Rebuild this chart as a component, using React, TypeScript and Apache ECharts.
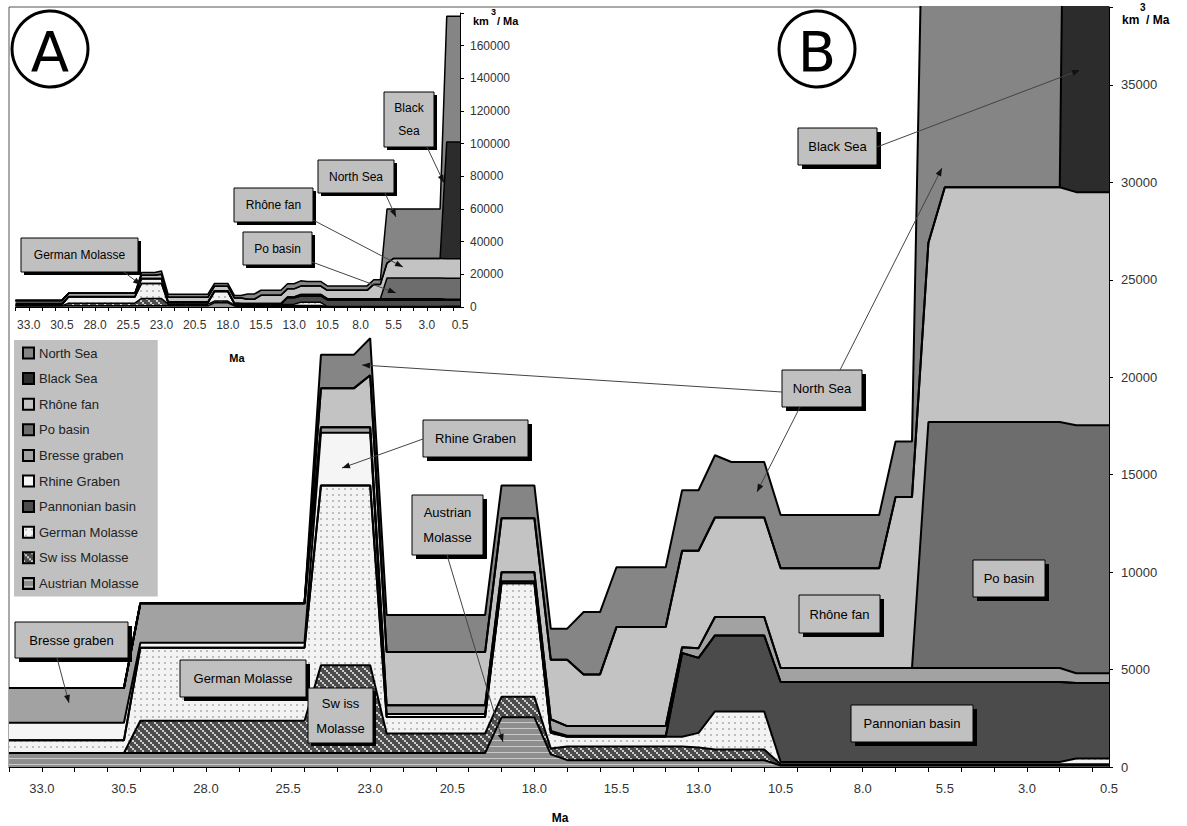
import React, { useEffect, useRef } from 'react';
import * as echarts from 'echarts';

const FONT = "'Liberation Sans', Arial, Helvetica, sans-serif";

// Ages (Ma), one category every 0.5 Ma, oldest at left
const ages = ['34.0','33.5','33.0','32.5','32.0','31.5','31.0','30.5','30.0','29.5','29.0','28.5','28.0','27.5','27.0','26.5','26.0','25.5','25.0','24.5','24.0','23.5','23.0','22.5','22.0','21.5','21.0','20.5','20.0','19.5','19.0','18.5','18.0','17.5','17.0','16.5','16.0','15.5','15.0','14.5','14.0','13.5','13.0','12.5','12.0','11.5','11.0','10.5','10.0','9.5','9.0','8.5','8.0','7.5','7.0','6.5','6.0','5.5','5.0','4.5','4.0','3.5','3.0','2.5','2.0','1.5','1.0','0.5'];

// Sediment flux, km3/Ma (stacked, bottom first)
const austrianMolasse = [
  720,720,720,720,720,720,720,720,
  720,720,720,720,720,720,720,720,720,720,720,
  720,720,720,720,
  720,720,720,720,720,720,720,
  2550,2550,2550,
  650,
  350,350,350,350,350,350,350,350,350,350,350,350,350,
  80,80,80,80,80,80,80,80,80,80,80,80,80,80,80,80,80,80,80,80,80];
const swissMolasse = [
  0,0,0,0,0,0,0,0,
  1650,1650,1650,1650,1650,1650,1650,1650,1650,1650,1650,
  4500,4500,4500,4500,
  1000,1000,1000,1000,1000,1000,1000,
  1050,1050,1050,
  300,
  700,700,700,700,700,700,700,700,
  650,
  550,550,550,550,
  60,60,60,60,60,60,60,60,60,60,60,60,60,60,60,60,60,60,60,60,60];
const germanMolasse = [
  650,650,650,650,650,650,650,650,
  3750,3750,3750,3750,3750,3750,3750,3750,3750,3750,3750,
  9230,9230,9230,9230,
  850,850,850,850,850,850,850,
  5830,5830,5830,
  800,
  500,500,500,500,500,500,500,500,
  750,
  1950,1950,1950,1950,
  120,120,120,120,120,120,120,120,120,120,120,120,120,120,120,120,120,120,
  300,300,300];
const pannonianBasin = [
  0,0,0,0,0,0,0,0,0,0,0,0,0,0,0,0,0,0,0,0,0,0,0,0,0,0,0,0,0,0,0,0,0,0,0,0,0,0,0,0,0,
  4300,
  3850,
  3900,3900,3900,3900,
  4100,4100,4100,4100,4100,4100,4100,4100,4100,4100,4100,4100,4100,4100,4100,4100,4100,4100,
  3870,3870,3870];
const rhineGraben = [
  900,900,900,900,900,900,900,900,
  250,250,250,250,250,250,250,250,250,250,250,
  2700,2700,2700,2700,
  150,150,150,150,150,150,150,
  100,100,100,
  100,
  50,50,50,50,50,50,50,
  0,0,0,0,0,0,0,0,0,0,0,0,0,0,0,0,0,0,0,0,0,0,0,0,0,0,0];
const bresseGraben = [
  1780,1780,1780,1780,1780,1780,1780,1780,
  2030,2030,2030,2030,2030,2030,2030,2030,2030,2030,2030,
  280,280,280,280,
  450,450,450,450,450,450,450,
  470,470,470,
  600,
  500,500,500,500,500,500,500,
  300,
  500,
  950,950,950,950,
  720,720,720,720,720,720,720,720,720,720,720,720,720,720,720,720,720,720,
  500,500,500];
const poBasin = [
  0,0,0,0,0,0,0,0,0,0,0,0,0,0,0,0,0,0,0,0,0,0,0,0,0,0,0,0,0,0,0,0,0,0,0,0,0,0,0,0,0,0,0,0,0,0,0,0,0,0,0,0,0,0,0,0,
  12620,12620,12620,12620,12620,12620,12620,12620,12620,
  12730,12730,12730];
const rhoneFan = [
  0,0,0,0,0,0,0,0,0,0,0,0,0,0,0,0,0,0,0,
  2000,2000,2000,
  2670,
  2730,2730,2730,2730,2730,2730,2730,
  2770,2770,2770,
  3050,
  3400,
  2650,2650,
  5080,5080,5080,5080,
  4950,
  5000,
  5100,5100,5100,5100,
  5120,5120,5120,5120,5120,5120,5120,
  8770,8770,
  9200,
  12050,12050,12050,12050,12050,12050,12050,12050,
  11960,11960,11960];
const blackSea = [
  0,0,0,0,0,0,0,0,0,0,0,0,0,0,0,0,0,0,0,0,0,0,0,0,0,0,0,0,0,0,0,0,0,0,0,0,0,0,0,0,0,0,0,0,0,0,0,0,0,0,0,0,0,0,0,0,0,0,0,0,0,0,0,0,0,
  71500,71500,71500];
const northSea = [
  0,0,0,0,0,0,0,0,0,0,0,0,0,0,0,0,0,0,0,
  1720,1720,1720,
  1900,
  1900,1900,1900,1900,1900,1900,1900,
  1680,1680,1680,
  1600,1600,
  3200,3200,
  3070,3070,3070,3070,
  3100,3100,
  3200,
  2850,2850,2850,
  2730,2730,2730,2730,2730,2730,2730,
  2850,2850,
  33100,
  30250,30250,30250,30250,30250,30250,30250,30250,
  77000,77000,77000];

const legendOrder = ['North Sea','Black Sea','Rhône fan','Po basin','Bresse graben','Rhine Graben','Pannonian basin','German Molasse','Sw iss Molasse','Austrian Molasse'];

function makePattern(kind: string) {
  const c = document.createElement('canvas');
  let w = 8, h = 8;
  if (kind === 'stripes') { w = 8; h = 6; }
  if (kind === 'dots') { w = 6; h = 6; }
  c.width = w; c.height = h;
  const g = c.getContext('2d')!;
  if (kind === 'stripes') {
    g.fillStyle = '#8e8e8e'; g.fillRect(0, 0, w, h);
    g.fillStyle = '#c9c9c9'; g.fillRect(0, 2, w, 1);
  } else if (kind === 'hatch') {
    g.fillStyle = '#4c4c4c'; g.fillRect(0, 0, w, h);
    g.fillStyle = '#cfcfcf';
    for (let k = 0; k < 4; k++) g.fillRect(k * 2, k * 2, 2, 2);
  } else {
    g.fillStyle = '#f3f3f3'; g.fillRect(0, 0, w, h);
    g.fillStyle = '#bdbdbd'; g.fillRect(2, 2, 2, 2);
  }
  return { image: c, repeat: 'repeat', imageWidth: w, imageHeight: h } as any;
}

function arrowHead(x1: number, y1: number, x2: number, y2: number, len = 8, half = 3) {
  const dx = x2 - x1, dy = y2 - y1, L = Math.hypot(dx, dy);
  const ux = dx / L, uy = dy / L;
  const bx = x2 - ux * len, by = y2 - uy * len;
  return {
    type: 'polygon', z: 102, silent: true,
    shape: { points: [[x2, y2], [bx - uy * half, by + ux * half], [bx + uy * half, by - ux * half]] },
    style: { fill: '#111' },
  };
}
function leader(x1: number, y1: number, x2: number, y2: number, head = true) {
  const out: any[] = [{
    type: 'line', z: 101, silent: true,
    shape: { x1, y1, x2, y2 }, style: { stroke: '#444', lineWidth: 1 },
  }];
  if (head) out.push(arrowHead(x1, y1, x2, y2));
  return out;
}
function txt(x: number, y: number, text: string, size: number, opts: any = {}) {
  return {
    type: 'text', z: 103, silent: true, x, y,
    style: {
      text, fill: opts.fill || '#000', fontSize: size, fontFamily: opts.family || FONT,
      fontWeight: opts.weight || 'normal',
      align: opts.align || 'center', verticalAlign: opts.valign || 'middle',
      textAlign: opts.align || 'center', textVerticalAlign: opts.valign || 'middle',
      lineHeight: opts.lineHeight || Math.round(size * 1.35),
    },
  };
}
function callout(x: number, y: number, w: number, h: number, text: string, size: number, sh = 4) {
  return [
    { type: 'rect', z: 100, silent: true, shape: { x: x + sh, y: y + sh, width: w, height: h }, style: { fill: '#000' } },
    { type: 'rect', z: 100, silent: true, shape: { x, y, width: w, height: h }, style: { fill: '#c0c0c0', stroke: '#000', lineWidth: 1 } },
    txt(x + w / 2, y + h / 2, text, size, { lineHeight: Math.round(size * 1.9) }),
  ];
}

export default function App() {
  const ref = useRef<HTMLDivElement>(null);
  useEffect(() => {
    if (!ref.current) return;
    const chart = echarts.init(ref.current, null, { renderer: 'svg' });
    const fills: Record<string, any> = {
      'North Sea': '#858585',
      'Black Sea': '#2c2c2c',
      'Rhône fan': '#c3c3c3',
      'Po basin': '#6d6d6d',
      'Bresse graben': '#a2a2a2',
      'Rhine Graben': '#f5f5f5',
      'Pannonian basin': '#4b4b4b',
      'German Molasse': makePattern('dots'),
      'Sw iss Molasse': makePattern('hatch'),
      'Austrian Molasse': makePattern('stripes'),
    };
    const stackData: [string, number[]][] = [
      ['Austrian Molasse', austrianMolasse],
      ['Sw iss Molasse', swissMolasse],
      ['German Molasse', germanMolasse],
      ['Pannonian basin', pannonianBasin],
      ['Rhine Graben', rhineGraben],
      ['Bresse graben', bresseGraben],
      ['Po basin', poBasin],
      ['Rhône fan', rhoneFan],
      ['Black Sea', blackSea],
      ['North Sea', northSea],
    ];
    const mkSeries = (idx: number, stack: string, lw: number) =>
      stackData.map(([name, data]) => ({
        name, type: 'line', stack, data,
        xAxisIndex: idx, yAxisIndex: idx,
        symbol: 'none', showSymbol: false, silent: true,
        lineStyle: { color: '#000', width: lw },
        itemStyle: { color: fills[name] },
        areaStyle: { color: fills[name], opacity: 1 },
        emphasis: { disabled: true },
        z: 2,
      }));

    const labelEvery = (i: number) => i >= 2 && (i - 2) % 5 === 0;
    const tickEvery = (i: number) => i % 2 === 0;

    const graphic: any[] = [
      // circled letters
      { type: 'circle', z: 100, silent: true, shape: { cx: 50, cy: 49, r: 38 }, style: { fill: 'none', stroke: '#000', lineWidth: 3 } },
      txt(50, 51, 'A', 56, { family: "'DejaVu Sans', sans-serif" }),
      { type: 'circle', z: 100, silent: true, shape: { cx: 817, cy: 49, r: 38 }, style: { fill: 'none', stroke: '#000', lineWidth: 3 } },
      txt(817, 51, 'B', 56, { family: "'DejaVu Sans', sans-serif" }),
      // units
      txt(1122, 20, 'km', 12, { weight: 'bold', align: 'left' }),
      txt(1140, 7, '3', 10, { weight: 'bold', align: 'left' }),
      txt(1146, 20, '/ Ma', 12, { weight: 'bold', align: 'left' }),
      txt(473, 21, 'km', 11, { weight: 'bold', align: 'left' }),
      txt(491, 12, '3', 9, { weight: 'bold', align: 'left' }),
      txt(497, 21, '/ Ma', 11, { weight: 'bold', align: 'left' }),
      txt(560, 818, 'Ma', 12, { weight: 'bold' }),
      txt(237, 358, 'Ma', 11, { weight: 'bold' }),
      // main callouts
      ...callout(798, 128, 79, 37, 'Black Sea', 13),
      ...leader(877, 147, 1080, 70),
      ...callout(782, 370, 80, 37, 'North Sea', 13),
      ...leader(782, 392, 362, 365),
      ...leader(800, 407, 757, 492),
      ...leader(840, 370, 942, 168),
      ...callout(423, 420, 105, 37, 'Rhine Graben', 13),
      ...leader(423, 439, 342, 468),
      ...callout(412, 495, 71, 60, 'Austrian\nMolasse', 13),
      ...leader(447, 555, 503, 742),
      ...callout(15, 622, 113, 36, 'Bresse graben', 13),
      ...leader(57, 658, 69, 703),
      ...callout(180, 660, 126, 37, 'German Molasse', 13),
      ...callout(308, 688, 65, 55, 'Sw iss\nMolasse', 13, 3),
      ...callout(799, 595, 81, 38, 'Rhône fan', 13),
      ...callout(973, 560, 72, 37, 'Po basin', 13),
      ...callout(851, 705, 122, 37, 'Pannonian basin', 13),
      // inset callouts
      ...callout(21, 238, 117, 34, 'German Molasse', 12, 3),
      ...leader(124, 272, 141, 285),
      ...callout(243, 232, 69, 33, 'Po basin', 12, 3),
      ...leader(312, 262, 396, 293),
      ...callout(234, 188, 79, 34, 'Rhône fan', 12, 3),
      ...leader(313, 220, 403, 267),
      ...callout(318, 160, 76, 33, 'North Sea', 12, 3),
      ...leader(385, 193, 396, 217),
      ...callout(384, 92, 50, 55, 'Black\nSea', 12, 3),
      ...leader(427, 147, 444, 183),
    ];

    chart.setOption({
      animation: false,
      backgroundColor: '#ffffff',
      textStyle: { fontFamily: FONT },
      grid: [
        { left: 9, top: 7, width: 1100, height: 760, show: true, borderColor: '#555', borderWidth: 1, backgroundColor: '#fff', containLabel: false },
        { left: 15.5, top: 13, width: 444.5, height: 294, containLabel: false },
      ],
      xAxis: [
        {
          type: 'category', gridIndex: 0, data: ages, boundaryGap: false,
          axisLine: { lineStyle: { color: '#000', width: 1 } },
          axisTick: { interval: tickEvery, length: 5, lineStyle: { color: '#000' } },
          axisLabel: { interval: labelEvery, color: '#333', fontSize: 13, fontFamily: FONT, margin: 15 },
          splitLine: { show: false },
        },
        {
          type: 'category', gridIndex: 1, data: ages, boundaryGap: false,
          axisLine: { lineStyle: { color: '#000', width: 1 } },
          axisTick: { interval: tickEvery, length: 4, lineStyle: { color: '#000' } },
          axisLabel: { interval: labelEvery, color: '#333', fontSize: 12, fontFamily: FONT, margin: 12 },
          splitLine: { show: false },
        },
      ],
      yAxis: [
        {
          type: 'value', gridIndex: 0, position: 'right', min: 0, max: 39000, interval: 5000,
          axisLine: { show: true, lineStyle: { color: '#000' } },
          axisTick: { show: true, length: 4, lineStyle: { color: '#000' } },
          axisLabel: { color: '#333', fontSize: 13, fontFamily: FONT, margin: 12, formatter: (v: number) => (v % 5000 === 0 ? String(v) : '') },
          splitLine: { show: false },
        },
        {
          type: 'value', gridIndex: 1, position: 'right', min: 0, max: 180000, interval: 20000,
          axisLine: { show: true, lineStyle: { color: '#000' } },
          axisTick: { show: true, length: 4, lineStyle: { color: '#000' } },
          axisLabel: { color: '#333', fontSize: 12, fontFamily: FONT, margin: 10, formatter: (v: number) => (v >= 180000 ? '' : String(v)) },
          splitLine: { show: false },
        },
      ],
      legend: {
        orient: 'vertical', left: 14, top: 340,
        backgroundColor: '#c0c0c0', padding: [6, 19, 6, 8],
        itemWidth: 11, itemHeight: 11, itemGap: 11.6, icon: 'rect',
        selectedMode: false,
        data: legendOrder,
        itemStyle: { borderColor: '#000', borderWidth: 2 },
        textStyle: { fontSize: 13, color: '#222', fontFamily: FONT, lineHeight: 14 },
      },
      series: [...mkSeries(0, 'main', 2), ...mkSeries(1, 'inset', 1.5)],
      graphic,
    });
    return () => chart.dispose();
  }, []);
  return <div ref={ref} style={{ position: 'fixed', left: 0, top: 0, width: 1187, height: 826 }} />;
}
